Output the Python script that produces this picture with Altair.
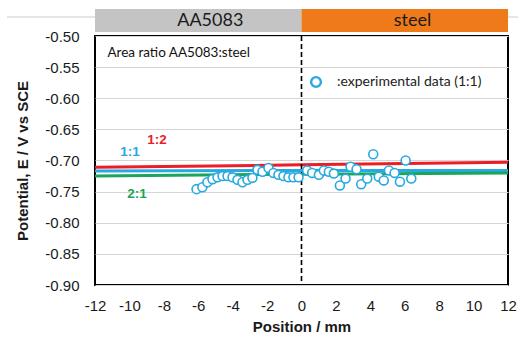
import altair as alt
import pandas as pd

# experimental data (1:1)
pos_mm = [-6.10, -5.76, -5.47, -5.17, -4.88, -4.59, -4.30, -4.01, -3.72, -3.43,
          -3.14, -2.85, -2.56, -2.27, -1.92, -1.63, -1.34, -1.05, -0.76, -0.47,
          -0.17, 0.33, 0.62, 1.01, 1.30, 1.59, 1.88, 2.23, 2.56, 2.85,
          3.20, 3.47, 3.82, 4.17, 4.49, 4.78, 5.08, 5.41, 5.72, 6.05, 6.38]
potential_v = [-0.746, -0.743, -0.735, -0.730, -0.727, -0.725, -0.725, -0.727, -0.731, -0.735,
               -0.731, -0.728, -0.715, -0.718, -0.712, -0.720, -0.723, -0.725, -0.727, -0.727,
               -0.727, -0.716, -0.720, -0.723, -0.716, -0.718, -0.721, -0.740, -0.729, -0.710,
               -0.714, -0.738, -0.729, -0.690, -0.726, -0.732, -0.716, -0.720, -0.734, -0.700, -0.729]

# simulated lines for area ratios
line_x = [-12, 0, 12]
ratio_1_2 = [-0.711, -0.707, -0.703]
ratio_1_1 = [-0.717, -0.716, -0.716]
ratio_2_1 = [-0.725, -0.722, -0.720]

series_names = ["1:2", "1:1", "2:1"]
series_colors = ["#ee1c25", "#29a9e1", "#19a55a"]
label_x = [-8.4, -9.97, -9.56]
label_y = [-0.667, -0.686, -0.754]

regions = ["AA5083", "steel"]
region_start = [-12, 0]
region_end = [0, 12]
region_text_x = [-5.3, 6.45]
region_colors = ["#c4c4c4", "#ef7a1a"]

y_ticks = [-0.90, -0.85, -0.80, -0.75, -0.70, -0.65, -0.60, -0.55, -0.50]
x_ticks = [-12, -10, -8, -6, -4, -2, 0, 2, 4, 6, 8, 10, 12]

pts = pd.DataFrame({"x": pos_mm, "y": potential_v,
                    "s": [":experimental data (1:1)"] * len(pos_mm)})
lines = pd.DataFrame({
    "x": line_x * 3,
    "y": ratio_1_2 + ratio_1_1 + ratio_2_1,
    "s": [n for n in series_names for _ in line_x],
})
labels = pd.DataFrame({"x": label_x, "y": label_y, "s": series_names})
reg = pd.DataFrame({"r": regions, "x": region_start, "x1": region_end,
                    "tx": region_text_x})
note = pd.DataFrame({"x": [-11.28], "y": [-0.527], "t": ["Area ratio AA5083:steel"]})

xs = alt.Scale(domain=[-12, 12], nice=False, zero=False)
ys = alt.Scale(domain=[-0.9, -0.5], nice=False, zero=False)

x_axis = alt.Axis(values=x_ticks, grid=False, ticks=False, domain=False,
                  labelExpr="datum.value < 0 ? '-' + format(abs(datum.value), 'd') : format(datum.value, 'd')",
                  labelPadding=13, titlePadding=6, labelFlush=False, labelOverlap=False,
                  labelFont="Liberation Sans", labelFontSize=15, labelColor="#1a1a1a",
                  titleFont="Liberation Sans", titleFontSize=15, titleFontWeight="bold",
                  titleColor="#1a1a1a")
y_axis = alt.Axis(values=y_ticks, grid=True, ticks=False,
                  labelExpr="datum.value < 0 ? '-' + format(abs(datum.value), '.2f') : format(datum.value, '.2f')",
                  domain=False, labelPadding=16, titlePadding=14, labelOverlap=False,
                  gridColor="#d6d6d6", gridWidth=1,
                  labelFont="Liberation Sans", labelFontSize=15, labelColor="#1a1a1a",
                  titleFont="Liberation Sans", titleFontSize=15, titleFontWeight="bold",
                  titleColor="#1a1a1a")

X = alt.X("x:Q", scale=xs, title="Position / mm", axis=x_axis)
Y = alt.Y("y:Q", scale=ys, title="Potential, E / V vs SCE", axis=y_axis)

stroke_scale = alt.Scale(domain=series_names, range=series_colors)

line_layer = alt.Chart(lines).mark_line(strokeWidth=3).encode(
    x=X, y=Y,
    stroke=alt.Stroke("s:N", scale=stroke_scale, legend=None),
)

zero_rule = alt.Chart(pd.DataFrame({"x": [0]})).mark_rule(
    color="black", strokeWidth=1.6, strokeDash=[5, 3]
).encode(x=X)

point_layer = alt.Chart(pts).mark_point(
    shape="circle", filled=False, fill="white", fillOpacity=1, size=80, strokeWidth=1.6
).encode(
    x=X, y=Y,
    color=alt.Color("s:N", scale=alt.Scale(range=["#29a9e1"]),
                    legend=alt.Legend(title=None, orient="none", legendX=214, legendY=39,
                                      padding=0, labelOffset=14, symbolSize=95,
                                      symbolStrokeWidth=2.4, symbolFillColor="white",
                                      labelFont="Lato", labelFontSize=14,
                                      labelColor="#222222")),
)

label_layer = alt.Chart(labels).mark_text(
    font="Liberation Sans", fontSize=13.5, fontWeight="bold"
).encode(
    x=X, y=Y, text="s:N",
    color=alt.Color("s:N", scale=stroke_scale, legend=None),
)

area_text = alt.Chart(note).mark_text(
    align="left", font="Lato", fontSize=13.5, color="#111111"
).encode(x=X, y=Y, text="t:N")

top_line = alt.Chart(pd.DataFrame({"a": [0]})).mark_rule(
    color="#cccccc", strokeWidth=1
).encode(x=alt.value(-88), x2=alt.value(423), y=alt.value(-19))

header = alt.Chart(reg).mark_rect().encode(
    x=X, x2="x1:Q",
    y=alt.value(-27), y2=alt.value(-4),
    color=alt.Color("r:N", scale=alt.Scale(domain=regions, range=region_colors), legend=None),
)
header_text = alt.Chart(reg).mark_text(
    font="Lato", fontSize=18, color="#1a1a1a", baseline="middle"
).encode(x=alt.X("tx:Q", scale=xs, axis=x_axis, title="Position / mm"),
         y=alt.value(-15.5), text="r:N")

chart = alt.layer(
    line_layer, zero_rule, point_layer, label_layer, area_text,
    top_line, header, header_text
).resolve_scale(color="independent").properties(
    width=413, height=249,
    autosize=alt.AutoSizeParams(type="none"),
    padding={"left": 95, "top": 36, "right": 10, "bottom": 54},
).configure_view(
    stroke="black", strokeWidth=2
)

chart.save("out.html", embed_options={"renderer": "svg", "actions": False})
